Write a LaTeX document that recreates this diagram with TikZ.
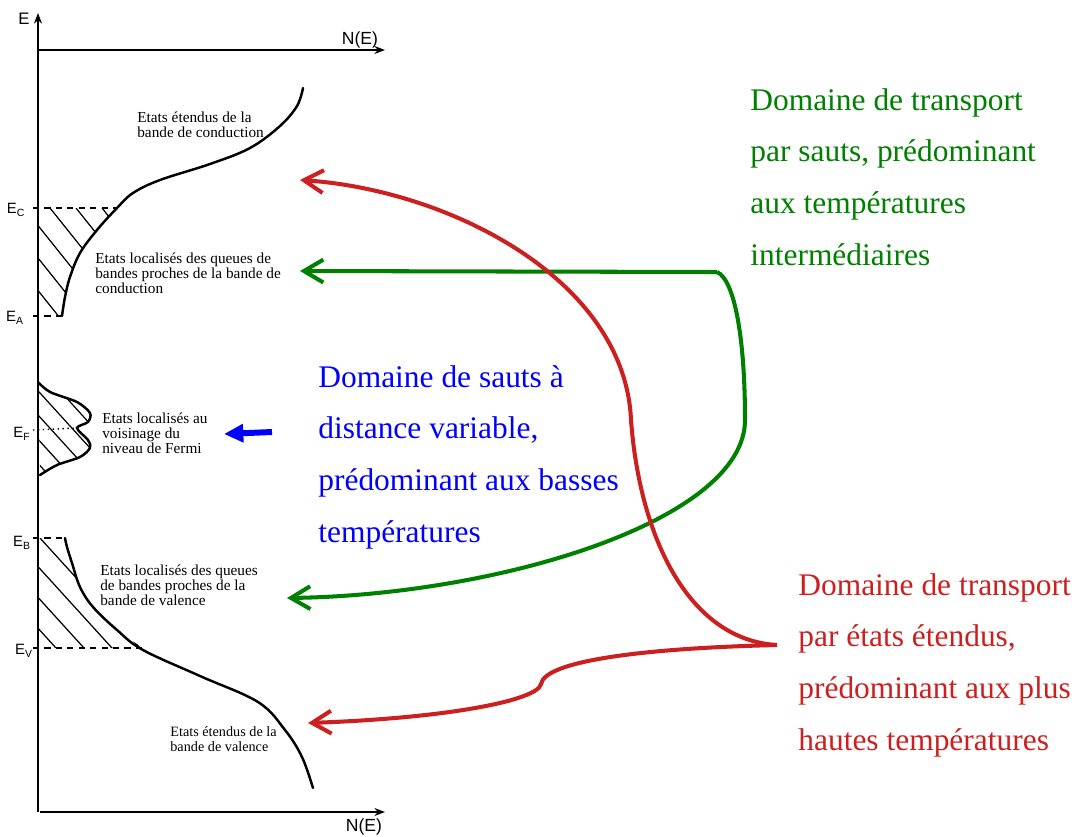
\documentclass[tikz,border=0pt]{standalone}
\usepackage{fontspec}
\setmainfont{Liberation Serif}
\setsansfont{Liberation Sans}
\usetikzlibrary{arrows.meta}
\definecolor{rouge}{RGB}{204,32,32}
\definecolor{vert}{RGB}{0,128,0}
\definecolor{bleu}{RGB}{0,0,255}

\tikzset{
  etat/.style={anchor=north west,align=left,inner sep=0pt,font=\fontsize{8.7}{8.4}\selectfont},
  domaine/.style={anchor=north west,align=left,inner sep=0pt,font=\fontsize{17.9}{29.4}\selectfont},
  niveau/.style={inner sep=0pt,font=\sffamily\fontsize{8.5}{8.5}\selectfont},
  axe/.style={line width=1.1pt,-{Stealth[length=6pt,width=4.5pt]}},
  courbe/.style={line width=1.4pt,line cap=round},
  hachure/.style={line width=0.7pt},
  tirets/.style={line width=1pt,dash pattern=on 3.5pt off 3pt},
  fleche/.style={line width=2.3pt,-{Straight Barb[length=11pt,width=13pt]}},
}

\begin{document}
\begin{tikzpicture}[x=0.02cm,y=-0.02cm]
\useasboundingbox (0,0) rectangle (1078,836);

% axes
\draw[axe] (38,812) -- (38,13);
\draw[axe] (38,50) -- (385,50);
\draw[axe] (40,812) -- (385,812);
\node[niveau,font=\sffamily\fontsize{9.5}{9.5}\selectfont] (labE) at (24,19) {E};
\node[niveau,font=\sffamily\fontsize{10}{10}\selectfont] (labNh) at (360,40) {N(E)};
\node[niveau,font=\sffamily\fontsize{10}{10}\selectfont] (labNb) at (364,827) {N(E)};

% levels
\node[niveau] (labEC) at (16,210) {E\textsubscript{C}};
\node[niveau] (labEA) at (15,318) {E\textsubscript{A}};
\node[niveau] (labEF) at (22,434) {E\textsubscript{F}};
\node[niveau] (labEB) at (22,543) {E\textsubscript{B}};
\node[niveau] (labEV) at (24,651) {E\textsubscript{V}};

% conduction band
\begin{scope}
\clip (38,208) -- (117,208) -- plot[smooth] coordinates {(117,208) (97,230) (80,253) (70,277) (65,297) (62,316)} -- (38,316) -- cycle;
\foreach \x in {-54,-28,...,110}
  \draw[hachure] (\x,208) -- ++(100,125);
\end{scope}
\draw[courbe] plot[smooth,tension=0.6] coordinates {(303,88) (297,106) (280,126) (250,148) (210,164) (160,180) (133,193) (117,208) (97,230) (80,253) (70,277) (65,297) (62,316)};
\draw[tirets] (33,208) -- (117,208);
\draw[tirets] (33,316) -- (62,316);

% Fermi level
\begin{scope}
\clip plot[smooth] coordinates {(38,382) (50,392) (77,402) (90,413) (88,422) (77,428) (88,440) (90,448) (80,457) (57,465) (40,475)} -- cycle;
\foreach \x in {-80,-58,...,80}
  \draw[hachure] (\x,382) -- ++(100,110);
\end{scope}
\draw[courbe] plot[smooth] coordinates {(38,382) (50,392) (77,402) (90,413) (88,422) (77,428) (88,440) (90,448) (80,457) (57,465) (40,475)};
\draw[line width=0.8pt,dotted] (33,430) -- (77,428);

% valence band
\begin{scope}
\clip (38,538) -- (65,538) -- plot[smooth] coordinates {(65,538) (67,547) (72,563) (80,587) (93,607) (117,630) (143,648)} -- (38,648) -- cycle;
\foreach \x in {-100,-72,...,120}
  \draw[hachure] (\x,538) -- ++(120,132);
\end{scope}
\draw[courbe] plot[smooth,tension=0.6] coordinates {(65,538) (67,547) (72,563) (80,587) (93,607) (117,630) (143,650) (200,676) (258,702) (285,730) (302,757) (313,788)};
\draw[tirets] (33,538) -- (65,538);
\draw[tirets] (33,648) -- (145,648);

% state labels
\node[etat] (ecd) at (137,112) {Etats étendus de la\\bande de conduction};
\node[etat] (qcd) at (95,253) {Etats localisés des queues de\\bandes proches de la bande de\\conduction};
\node[etat] (vfe) at (102,413) {Etats localisés au\\voisinage du\\niveau de Fermi};
\node[etat] (qvl) at (100,565) {Etats localisés des queues\\de bandes proches de la\\bande de valence};
\node[etat,font=\fontsize{8.1}{8.4}\selectfont] (evl) at (170,726) {Etats étendus de la\\bande de valence};

% domains
\node[domaine,text=vert] (dvert) at (750,88) {Domaine de transport\\par sauts, prédominant\\aux températures\\intermédiaires};
\node[domaine,text=bleu] (dbleu) at (318,365) {Domaine de sauts à\\distance variable,\\prédominant aux basses\\températures};
\node[domaine,text=rouge] (drouge) at (798,573) {Domaine de transport\\par états étendus,\\prédominant aux plus\\hautes températures};

% arrows
\coordinate (fourchev) at (717,272);
\coordinate (fourcher) at (777,645);
\coordinate (departb) at (272,432);
\coordinate (cibleC) at (300,180);
\coordinate (cibleQC) at (300,271);
\coordinate (cibleF) at (224,434);
\coordinate (cibleQV) at (287,598);
\coordinate (cibleV) at (308,723);
\draw[fleche,vert] (fourchev) -- (cibleQC);
\draw[fleche,vert] (fourchev) .. controls (735,280) and (745,340) .. (745,420) .. controls (745,520) and (500,595) .. (cibleQV);
\draw[fleche,rouge] (fourcher) .. controls (690,640) and (640,540) .. (631,420) .. controls (625,280) and (450,190) .. (cibleC);
\draw[fleche,rouge] (fourcher) .. controls (650,648) and (545,660) .. (541,684) .. controls (538,700) and (450,718) .. (cibleV);
\draw[bleu,line width=3.4pt,-{Triangle[length=11pt,width=10pt]}] (departb) -- (cibleF);

\end{tikzpicture}
\end{document}
